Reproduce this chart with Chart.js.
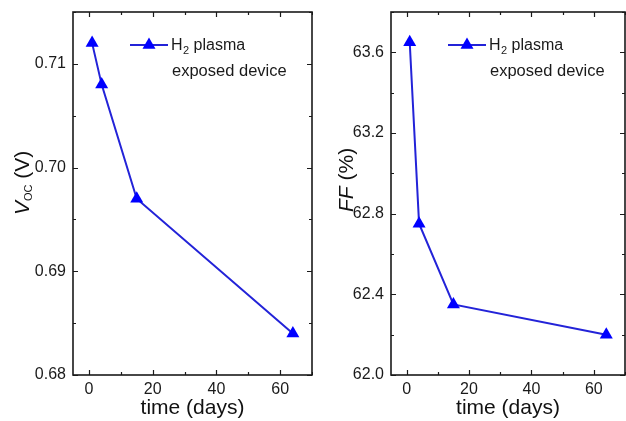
<!DOCTYPE html>
<html>
<head>
<meta charset="utf-8">
<script src="https://cdn.jsdelivr.net/npm/chart.js@4.4.0/dist/chart.umd.min.js"></script>
<style>
  html, body { margin: 0; padding: 0; background: #fff; }
  .panel { position: absolute; top: 0; width: 313px; height: 421px; }
  .ytitle {
    position: absolute; white-space: nowrap; color: #111;
    font: 21px/21px "Liberation Sans", Arial, sans-serif;
    transform-origin: 0 0; transform: rotate(-90deg);
  }
  .ytitle i { font-style: italic; }
  .ytitle .sub { font-size: 11px; line-height: 0; vertical-align: -3px; }
</style>
</head>
<body>
<div class="panel" style="left:0">
  <canvas id="voc" width="313" height="421"></canvas>
  <div class="ytitle" id="vocTitle" style="left:11px; top:215px"></div>
</div>
<div class="panel" style="left:313px">
  <canvas id="ff" width="313" height="421"></canvas>
  <div class="ytitle" id="ffTitle" style="left:22px; top:212px"></div>
</div>
<script>
const days = [1, 4, 15, 64];
const vocValues = [0.712, 0.708, 0.697, 0.684];
const ffValues = [63.65, 62.75, 62.35, 62.2];
const legendLine1 = ['H', '2', ' plasma'];
const legendLine2 = 'exposed device';
const xTitle = 'time (days)';
const vocTitle = ['V', 'OC', ' (V)'];
const ffTitle = ['FF', ' (%)'];

const FONT = '"Liberation Sans", Arial, sans-serif';
const LINE_COLOR = '#2323d8';
const MARK_COLOR = '#0000ff';

// y titles as page text: italic symbol, subscript, unit
function setTitle(id, parts) {
  const el = document.getElementById(id);
  const add = (tag, cls, text) => {
    const s = document.createElement(tag);
    if (cls) s.className = cls;
    s.textContent = text;
    el.appendChild(s);
  };
  add('i', '', parts[0]);
  if (parts.length === 3) add('span', 'sub', parts[1]);
  el.appendChild(document.createTextNode(parts[parts.length - 1]));
}
setTitle('vocTitle', vocTitle);
setTitle('ffTitle', ffTitle);

function triangle(ctx, x, y, r) {
  ctx.beginPath();
  ctx.moveTo(x, y - r);
  ctx.lineTo(x + r * Math.sin(2 * Math.PI / 3), y + r / 2);
  ctx.lineTo(x - r * Math.sin(2 * Math.PI / 3), y + r / 2);
  ctx.closePath();
  ctx.fill();
}

// box round the plot and inward ticks on all four sides
const frameTicks = {
  id: 'frameTicks',
  beforeDatasetsDraw(chart) {
    const { ctx, chartArea: a, scales: { x, y } } = chart;
    const marks = (scale) => {
      const vals = scale.ticks.map(t => t.value);
      const step = vals[1] - vals[0];
      const out = vals.map(v => [v, 5]);
      for (let v = vals[0] - step / 2; v <= scale.max + 1e-9; v += step) {
        if (v >= scale.min) out.push([v, 3]);
      }
      return out;
    };
    ctx.save();
    ctx.strokeStyle = '#1a1a1a';
    ctx.lineWidth = 1.2;
    ctx.beginPath();
    marks(x).forEach(([v, len]) => {
      const px = Math.round(x.getPixelForValue(v)) + 0.5;
      ctx.moveTo(px, a.bottom); ctx.lineTo(px, a.bottom - len);
      ctx.moveTo(px, a.top); ctx.lineTo(px, a.top + len);
    });
    marks(y).forEach(([v, len]) => {
      const py = Math.round(y.getPixelForValue(v)) + 0.5;
      ctx.moveTo(a.left, py); ctx.lineTo(a.left + len, py);
      ctx.moveTo(a.right, py); ctx.lineTo(a.right - len, py);
    });
    ctx.stroke();
    ctx.lineWidth = 1.6;
    ctx.strokeRect(a.left, a.top, a.right - a.left, a.bottom - a.top);
    ctx.restore();
  }
};

// two-line legend with line + triangle sample
const seriesKey = {
  id: 'seriesKey',
  afterDraw(chart, args, o) {
    const ctx = chart.ctx;
    const lx = o.x, ly = 45;
    ctx.save();
    ctx.strokeStyle = LINE_COLOR;
    ctx.lineWidth = 2;
    ctx.beginPath();
    ctx.moveTo(lx, ly); ctx.lineTo(lx + 38, ly);
    ctx.stroke();
    ctx.fillStyle = MARK_COLOR;
    triangle(ctx, lx + 19, ly, 7.5);
    ctx.fillStyle = '#1a1a1a';
    ctx.textBaseline = 'middle';
    let tx = lx + 41;
    ctx.font = `16px ${FONT}`;
    ctx.fillText(legendLine1[0], tx, ly + 1);
    tx += ctx.measureText(legendLine1[0]).width + 0.5;
    ctx.font = `11px ${FONT}`;
    ctx.fillText(legendLine1[1], tx, ly + 6);
    tx += ctx.measureText(legendLine1[1]).width;
    ctx.font = `16px ${FONT}`;
    ctx.fillText(legendLine1[2], tx, ly + 1);
    ctx.font = `16.5px ${FONT}`;
    ctx.fillText(legendLine2, lx + 42, ly + 26);
    ctx.restore();
  }
};

function makeChart(id, values, yMin, yMax, yStep, decimals, axisWidth, legendX) {
  return new Chart(document.getElementById(id), {
    type: 'line',
    data: {
      datasets: [{
        data: days.map((d, i) => ({ x: d, y: values[i] })),
        borderColor: LINE_COLOR,
        borderWidth: 2,
        pointStyle: 'triangle',
        pointRadius: 7.5,
        pointBackgroundColor: MARK_COLOR,
        pointBorderColor: MARK_COLOR,
        pointBorderWidth: 0,
        tension: 0,
        clip: false
      }]
    },
    options: {
      responsive: false,
      animation: false,
      devicePixelRatio: 1,
      layout: { autoPadding: false, padding: { left: 0, right: 1, top: 12, bottom: 0 } },
      plugins: {
        legend: { display: false },
        tooltip: { enabled: false },
        seriesKey: { x: legendX }
      },
      scales: {
        x: {
          type: 'linear',
          min: -5, max: 70,
          grid: { display: false, drawTicks: false, tickLength: 0 },
          border: { display: false },
          ticks: {
            stepSize: 20, includeBounds: false, padding: 5,
            color: '#1a1a1a', font: { family: FONT, size: 16 }, maxRotation: 0
          },
          title: {
            display: true, text: xTitle, color: '#111',
            font: { family: FONT, size: 21 }, padding: { top: 0, bottom: 0 }
          },
          afterFit: s => { s.height = 46; s.paddingLeft = 0; s.paddingRight = 0; }
        },
        y: {
          type: 'linear',
          min: yMin, max: yMax,
          grid: { display: false, drawTicks: false, tickLength: 0 },
          border: { display: false },
          ticks: {
            stepSize: yStep, includeBounds: false, padding: 7,
            color: '#1a1a1a', font: { family: FONT, size: 16 },
            callback: v => v.toFixed(decimals)
          },
          afterFit: s => { s.width = axisWidth; s.paddingTop = 0; s.paddingBottom = 0; }
        }
      }
    },
    plugins: [frameTicks, seriesKey]
  });
}

makeChart('voc', vocValues, 0.68, 0.715, 0.01, 2, 73, 130);
makeChart('ff', ffValues, 62.0, 63.8, 0.4, 1, 78, 135);
</script>
</body>
</html>
